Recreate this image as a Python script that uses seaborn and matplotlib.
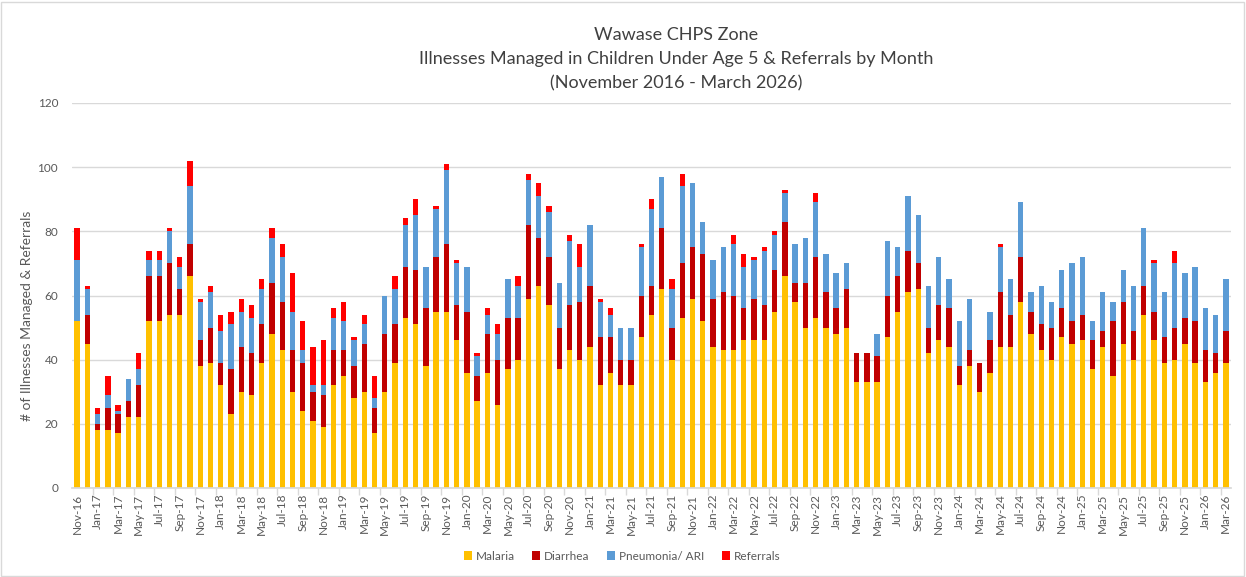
import numpy as np
import pandas as pd
import matplotlib
matplotlib.use("Agg")
import matplotlib.pyplot as plt
from matplotlib.patches import Patch, Rectangle
import seaborn as sns

months = list(pd.date_range("2016-11-01", "2026-03-01", freq="MS").strftime("%b-%y"))

malaria = [52, 45, 18, 18, 17, 22, 22, 52, 52, 54, 54, 66,
           38, 39, 32, 23, 30, 29, 39, 48, 43, 30, 24, 21,
           19, 32, 35, 28, 30, 17, 30, 39, 53, 51, 38, 55,
           55, 46, 36, 27, 36, 26, 37, 40, 59, 63, 57, 37,
           43, 40, 44, 32, 36, 32, 32, 47, 54, 62, 40, 53,
           59, 52, 44, 43, 43, 46, 46, 46, 55, 66, 58, 50,
           53, 50, 48, 50, 33, 33, 33, 47, 55, 61, 62, 42,
           46, 44, 32, 38, 30, 36, 44, 44, 58, 48, 43, 40,
           47, 45, 46, 37, 44, 35, 45, 40, 54, 46, 39, 40,
           45, 39, 33, 36, 39]

diarrhea = [0, 9, 2, 7, 6, 5, 10, 14, 14, 16, 8, 10,
            8, 11, 7, 14, 14, 13, 12, 16, 15, 13, 15, 9,
            10, 11, 8, 10, 15, 8, 18, 12, 16, 17, 18, 17,
            21, 11, 19, 8, 12, 14, 16, 13, 23, 15, 15, 13,
            14, 18, 19, 15, 11, 8, 8, 13, 9, 19, 10, 17,
            16, 21, 15, 18, 17, 10, 13, 11, 13, 17, 6, 14,
            19, 11, 8, 12, 9, 9, 8, 13, 11, 13, 8, 8,
            11, 12, 6, 5, 9, 10, 17, 10, 14, 7, 8, 10,
            9, 7, 8, 9, 5, 17, 13, 9, 9, 9, 8, 10,
            8, 13, 10, 6, 10]

pneumonia = [19, 8, 3, 4, 1, 7, 5, 5, 5, 10, 7, 18,
             12, 11, 10, 14, 11, 11, 11, 14, 14, 12, 4, 2,
             3, 10, 9, 8, 6, 3, 12, 11, 13, 17, 13, 15,
             23, 13, 14, 6, 6, 8, 12, 10, 14, 13, 14, 14,
             20, 11, 19, 11, 7, 10, 10, 15, 24, 16, 12, 24,
             20, 10, 12, 14, 16, 13, 12, 17, 11, 9, 12, 14,
             17, 12, 11, 8, 0, 0, 7, 17, 9, 17, 15, 13,
             15, 9, 14, 16, 0, 9, 14, 11, 17, 6, 12, 8,
             12, 18, 18, 6, 12, 6, 10, 14, 18, 15, 14, 20,
             14, 17, 13, 12, 16]

referrals = [10, 1, 2, 6, 2, 0, 5, 3, 3, 1, 3, 8,
             1, 2, 5, 4, 4, 4, 3, 3, 4, 12, 9, 12,
             14, 3, 6, 1, 3, 7, 0, 4, 2, 5, 0, 1,
             2, 1, 0, 1, 2, 3, 0, 3, 2, 4, 2, 0,
             2, 7, 0, 1, 2, 0, 0, 1, 3, 0, 3, 4,
             0, 0, 0, 0, 3, 4, 1, 1, 1, 1, 0, 0,
             3, 0, 0, 0, 0, 0, 0, 0, 0, 0, 0, 0,
             0, 0, 0, 0, 0, 0, 1, 0, 0, 0, 0, 0,
             0, 0, 0, 0, 0, 0, 0, 0, 0, 1, 0, 4,
             0, 0, 0, 0, 0]

series_names = ["Malaria", "Diarrhea", "Pneumonia/ ARI", "Referrals"]
colors = ["#FFC000", "#C00000", "#5B9BD5", "#FF0000"]

df = pd.DataFrame({"Month": months, "Malaria": malaria, "Diarrhea": diarrhea,
                   "Pneumonia/ ARI": pneumonia, "Referrals": referrals})
cum = df[series_names].cumsum(axis=1)
for n in series_names:
    df["cum_" + n] = cum[n]

sns.set_theme(style="white")
plt.rcParams['font.family'] = ['Lato', 'DejaVu Sans']

W, H = 1246, 577
fig = plt.figure(figsize=(W / 100, H / 100), dpi=100)
ax = fig.add_axes([72 / W, 89 / H, 1159 / W, 385 / H])

for n, c in reversed(list(zip(series_names, colors))):
    sns.barplot(data=df, x="Month", y="cum_" + n, color=c, saturation=1,
                width=0.52, errorbar=None, linewidth=0, ax=ax)

ax.set_xlim(-0.5, len(months) - 0.5)
ax.set_ylim(0, 120)
ax.set_yticks(range(0, 121, 20))
ax.yaxis.grid(True, color="#D9D9D9", linewidth=1)
ax.set_axisbelow(True)
ax.set_xticks(range(0, len(months), 2))
ax.set_xticklabels(months[::2], rotation=90, fontsize=8.5, color="#595959")
ax.set_xticks(np.arange(1.5, len(months), 2), minor=True)
ax.tick_params(axis="x", which="major", length=0, pad=4)
ax.tick_params(axis="x", which="minor", length=5, color="#D9D9D9", width=1, bottom=True)
ax.tick_params(axis="y", length=0, labelsize=8.5, labelcolor="#595959", pad=10)
for s in ["top", "right", "left"]:
    ax.spines[s].set_visible(False)
ax.spines["bottom"].set_color("#D9D9D9")
ax.set_xlabel("")
ax.set_ylabel("")

fig.text(27 / W, 1 - 316 / H, "# of Illnesses Managed & Referrals", rotation=90,
         ha="center", va="center", fontsize=10, color="#595959")

title_lines = ["Wawase CHPS Zone",
               "Illnesses Managed in Children Under Age 5 & Referrals by Month",
               "(November 2016 - March 2026)"]
for i, t in enumerate(title_lines):
    fig.text(676 / W, 1 - (35 + 24 * i) / H, t, ha="center", va="center",
             fontsize=13, color="#404040")

handles = [Patch(facecolor=c, edgecolor="none") for c in colors]
fig.legend(handles, series_names, loc="center", bbox_to_anchor=(622 / W, 1 - 556 / H),
           ncol=4, frameon=False, fontsize=8.5, handlelength=0.7, handleheight=0.7,
           handletextpad=0.3, columnspacing=1.5, labelcolor="#595959")

fig.patches.append(Rectangle((1 / W, 1 / H), 1 - 3 / W, 1 - 3 / H, transform=fig.transFigure,
                             fill=False, edgecolor="#D9D9D9", linewidth=1))

fig.savefig("out.png", dpi=100)
